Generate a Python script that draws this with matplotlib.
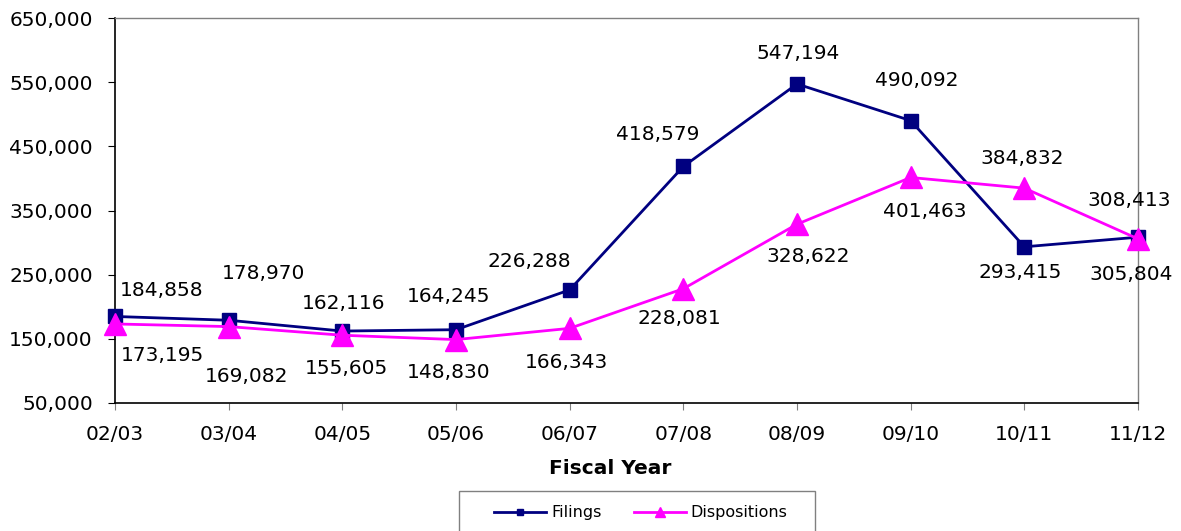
import matplotlib
matplotlib.use("Agg")
import matplotlib.pyplot as plt
from matplotlib.lines import Line2D
from matplotlib.patches import Rectangle
from matplotlib.ticker import FuncFormatter

plt.rcParams['font.family'] = ['DejaVu Sans']

years = ["02/03", "03/04", "04/05", "05/06", "06/07", "07/08", "08/09", "09/10", "10/11", "11/12"]
filings = [184858, 178970, 162116, 164245, 226288, 418579, 547194, 490092, 293415, 308413]
dispositions = [173195, 169082, 155605, 148830, 166343, 228081, 328622, 401463, 384832, 305804]
yticks = [50000, 150000, 250000, 350000, 450000, 550000, 650000]

# label offsets in pixels (dx, dy up)
filings_off = [(47, 25.5), (35, 46.5), (1, 28), (-7, 33), (-40, 28), (-26, 31.5),
               (1, 30), (6, 40.6), (-4.5, -25.7), (-8.5, 36.7)]
disp_off = [(47, -31.5), (17.5, -50), (4, -33), (-7, -32.5), (-3, -34), (-4, -29.5),
            (11, -32), (14, -34.5), (-2, 30), (-6.5, -35.6)]

W, H = 1181, 531
fig = plt.figure(figsize=(W / 100, H / 100), dpi=100)
ax = fig.add_axes([115 / W, 1 - 403 / H, (1138 - 115) / W, (403 - 18) / H])

x = list(range(len(years)))
navy = "#000080"
mag = "#FF00FF"
ax.plot(x, filings, color=navy, lw=2, marker="s", ms=9.4, zorder=3, clip_on=False)
ax.plot(x, dispositions, color=mag, lw=2, marker="^", ms=16.5, zorder=4, clip_on=False)

fs = 14.5
for i, v in enumerate(filings):
    ax.annotate(f"{v:,}", (x[i], v), xytext=filings_off[i], textcoords="offset pixels",
                ha="center", va="center", fontsize=fs, color="black", zorder=5,
                annotation_clip=False)
for i, v in enumerate(dispositions):
    ax.annotate(f"{v:,}", (x[i], v), xytext=disp_off[i], textcoords="offset pixels",
                ha="center", va="center", fontsize=fs, color="black", zorder=5,
                annotation_clip=False)

ax.set_xlim(0, len(years) - 1)
ax.set_ylim(50000, 650000)
ax.set_yticks(yticks)
ax.yaxis.set_major_formatter(FuncFormatter(lambda v, p: f"{int(v):,}"))
ax.set_xticks(x)
ax.set_xticklabels(years)
ax.tick_params(axis="both", labelsize=fs, direction="out", length=5, pad=11)
ax.tick_params(axis="x", colors="#808080", labelcolor="black")

for s in ["top", "right"]:
    ax.spines[s].set_color("#808080")
    ax.spines[s].set_linewidth(1)
for s in ["left", "bottom"]:
    ax.spines[s].set_color("black")
    ax.spines[s].set_linewidth(1.2)

fig.text(610 / W, 1 - 468 / H, "Fiscal Year", ha="center", va="center",
         fontsize=14.5, fontweight="bold")

# legend box
fig.patches.append(Rectangle((459 / W, -0.05), (815 - 459) / W, (1 - 491 / H) + 0.05,
                             transform=fig.transFigure, fill=False,
                             edgecolor="#808080", lw=1))
handles = [Line2D([], [], color=navy, lw=2, marker="s", ms=5),
           Line2D([], [], color=mag, lw=2, marker="^", ms=7)]
fig.legend(handles, ["Filings", "Dispositions"], loc="center",
           bbox_to_anchor=(641 / W, 1 - 513 / H), ncol=2, frameon=False,
           fontsize=11.5, handlelength=3.25, handletextpad=0.3, columnspacing=2.05,
           borderpad=0, borderaxespad=0)

fig.savefig("out.png", dpi=100, facecolor="white")
